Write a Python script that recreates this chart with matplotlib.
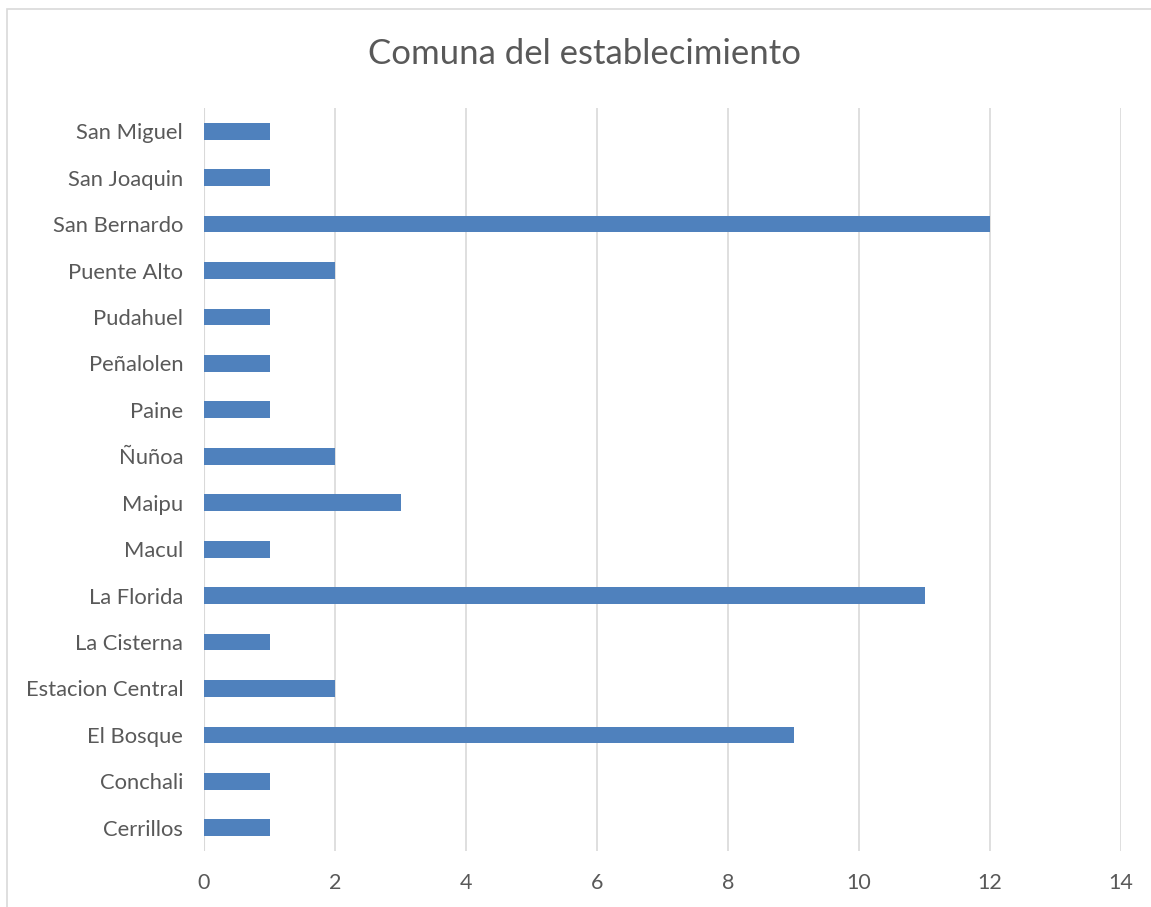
import matplotlib
matplotlib.use('Agg')
import matplotlib.pyplot as plt
from matplotlib.patches import Rectangle

# data, listed bottom to top as drawn
comunas = ['Cerrillos', 'Conchali', 'El Bosque', 'Estacion Central', 'La Cisterna',
           'La Florida', 'Macul', 'Maipu', 'Ñuñoa', 'Paine', 'Peñalolen', 'Pudahuel',
           'Puente Alto', 'San Bernardo', 'San Joaquin', 'San Miguel']
cantidad = [1, 1, 9, 2, 1, 11, 1, 3, 2, 1, 1, 1, 2, 12, 1, 1]
x_ticks = [0, 2, 4, 6, 8, 10, 12, 14]

text_color = '#595959'
bar_color = '#4F81BD'
grid_color = '#D9D9D9'

plt.rcParams['font.family'] = ['Lato', 'DejaVu Sans']

fig = plt.figure(figsize=(11.51, 9.07), dpi=100)
ax = fig.add_axes([204 / 1151, 1 - 851 / 907, (1121 - 204) / 1151, (851 - 108) / 907])

ax.barh(range(len(comunas)), cantidad, height=0.36, color=bar_color, zorder=3)

ax.set_xlim(0, 14)
ax.set_ylim(-0.5, len(comunas) - 0.5)
ax.set_xticks(x_ticks)
ax.set_xticklabels([str(t) for t in x_ticks], fontsize=15.5, color=text_color)
ax.set_yticks(range(len(comunas)))
ax.set_yticklabels(comunas, fontsize=15.8, color=text_color)
ax.tick_params(axis='both', length=0)
ax.tick_params(axis='x', pad=16)
ax.tick_params(axis='y', pad=15)

ax.grid(axis='x', color=grid_color, linewidth=1.2, zorder=0)
ax.grid(axis='y', visible=False)
for side in ['top', 'right', 'bottom', 'left']:
    ax.spines[side].set_visible(False)
ax.axvline(0, color=grid_color, linewidth=1.5, zorder=2)

fig.text(584 / 1151, 1 - 54 / 907, 'Comuna del establecimiento', ha='center', va='center',
         fontsize=25, color=text_color)

# chart area border (image is cropped on the right and bottom)
fig.patches.append(Rectangle((7 / 1151, -0.01), 1.0, 1 - 9 / 907 + 0.01,
                             transform=fig.transFigure, fill=False,
                             edgecolor=grid_color, linewidth=1.2))

plt.savefig('out.png', dpi=100)
